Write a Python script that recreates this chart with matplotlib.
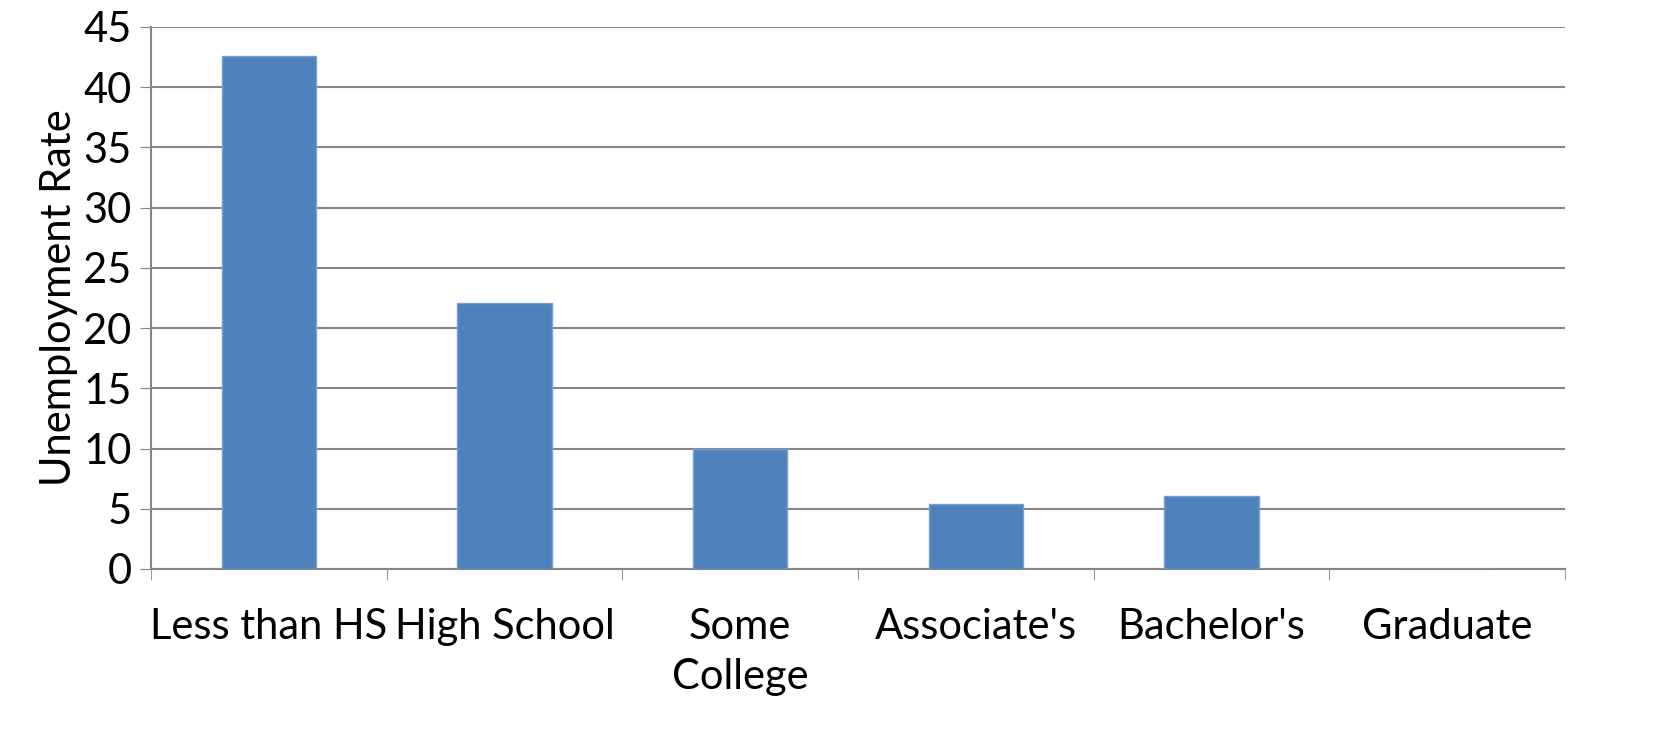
import matplotlib.pyplot as plt
import numpy as np

categories = ["Less than HS", "High School", "Some\nCollege", "Associate's", "Bachelor's", "Graduate"]
rates = [42.6, 22.1, 9.95, 5.4, 6.05, 0]
yticks = [0, 5, 10, 15, 20, 25, 30, 35, 40, 45]

plt.rcParams['font.family'] = ['Lato', 'DejaVu Sans']

fig = plt.figure(figsize=(16.71, 7.49), dpi=100)
ax = fig.add_axes([151 / 1671, 1 - 569 / 749, (1565 - 151) / 1671, (569 - 27) / 749])

x = np.arange(len(categories))
ax.bar(x, rates, width=0.4, color='#4F81BD', edgecolor='#7BA0CD', linewidth=1, zorder=3)

ax.set_xlim(-0.5, len(categories) - 0.5)
ax.set_ylim(0, 45)
ax.set_yticks(yticks)
ax.tick_params(axis='y', labelsize=30, length=8, color='#868686', pad=6)
ax.yaxis.grid(True, color='#868686', linewidth=1.5, zorder=0)

# category labels at centers, tick marks at boundaries
ax.set_xticks(x)
ax.set_xticklabels(categories, fontsize=30, linespacing=1.4)
ax.tick_params(axis='x', length=0, pad=28)
ax.set_xticks(np.arange(len(categories) + 1) - 0.5, minor=True)
ax.tick_params(axis='x', which='minor', length=8, color='#868686')

for s in ['top', 'right']:
    ax.spines[s].set_visible(False)
for s in ['left', 'bottom']:
    ax.spines[s].set_color('#868686')
    ax.spines[s].set_linewidth(1.5)

ax.set_ylabel('Unemployment Rate', fontsize=30, labelpad=4)

plt.savefig('out.png', dpi=100)
